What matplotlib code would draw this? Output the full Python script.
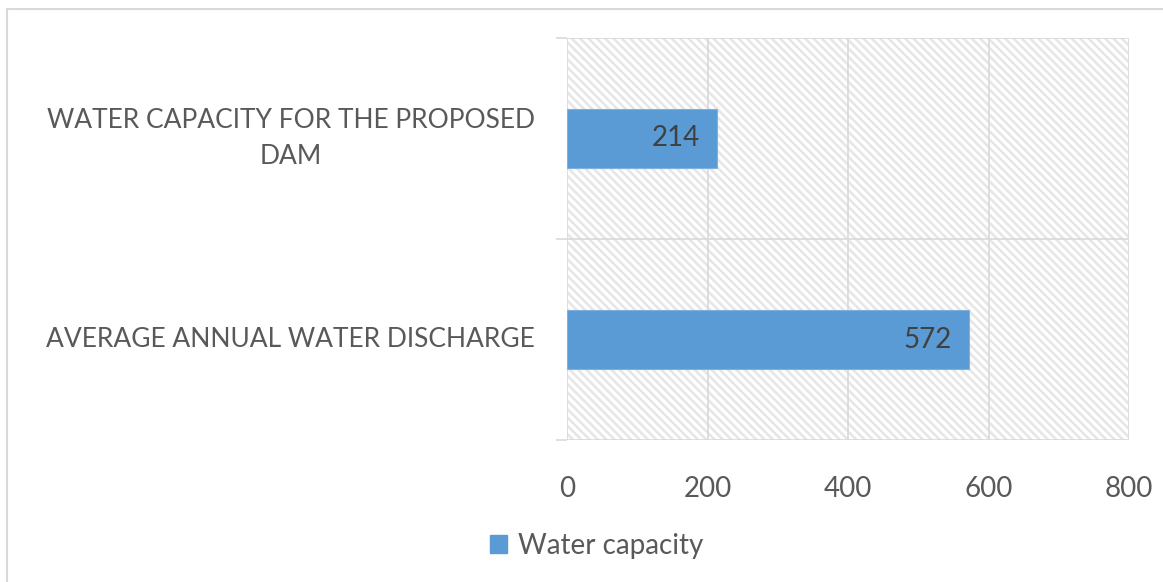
import matplotlib.pyplot as plt
from matplotlib.patches import Rectangle, Patch

plt.rcParams["font.family"] = ["Lato", "DejaVu Sans"]
plt.rcParams["hatch.linewidth"] = 1.8

categories = ["AVERAGE ANNUAL WATER DISCHARGE", "WATER CAPACITY FOR THE PROPOSED\nDAM"]
values = [572, 214]
series_name = "Water capacity"
xticks = [0, 200, 400, 600, 800]

BAR_COLOR = "#5B9BD5"
GRID_COLOR = "#D9D9D9"
TEXT_COLOR = "#595959"

W, H = 1163, 582
fig = plt.figure(figsize=(W / 100, H / 100), dpi=100)

# light frame around the chart area
fig.patches.append(Rectangle((7 / W, -0.1), 2, 1.1 - 9 / H, transform=fig.transFigure,
                             facecolor="none", edgecolor=GRID_COLOR, lw=1.5, zorder=0))

ax = fig.add_axes([567 / W, 1 - 440 / H, (1129 - 567) / W, (440 - 38) / H])
ax.set_axisbelow(True)

# hatched plot area
ax.add_patch(Rectangle((0, 0), 1, 1, transform=ax.transAxes, facecolor="white",
                       edgecolor="#E6E6E6", lw=0, hatch="\\\\\\\\", zorder=0))

y = list(range(len(categories)))
bars = ax.barh(y, values, height=0.29, color=BAR_COLOR, edgecolor="#7EB1E0", lw=0.8,
               label=series_name, zorder=2)
for b, v in zip(bars, values):
    ax.annotate(str(v), (v, b.get_y() + b.get_height() / 2), xytext=(-17, 0),
                textcoords="offset pixels", ha="right", va="center",
                fontsize=20, color="#404040", zorder=3)

ax.set_xlim(0, 800)
ax.set_ylim(-0.5, len(categories) - 0.5)
ax.set_xticks(xticks)
ax.set_yticks(y)
ax.set_yticklabels([])
ax.set_yticks([-0.5, 0.5, 1.5], minor=True)

# category names, right aligned, multi-line names centred on themselves
for yi, name in zip(y, categories):
    ax.annotate(name, (0, yi), xycoords=ax.get_yaxis_transform(), xytext=(-32, 0),
                textcoords="offset pixels", ha="right", va="center",
                multialignment="center", linespacing=1.5, fontsize=19, color=TEXT_COLOR)

ax.grid(axis="x", color=GRID_COLOR, lw=1.2)
ax.grid(axis="y", which="minor", color=GRID_COLOR, lw=1.2)
ax.tick_params(axis="x", length=0, pad=26, labelsize=20, labelcolor=TEXT_COLOR)
ax.tick_params(axis="y", which="major", length=0)
ax.tick_params(axis="y", which="minor", length=8, width=1.2, color=GRID_COLOR, direction="out")
for s in ax.spines.values():
    s.set_visible(False)

fig.legend(handles=[Patch(color=BAR_COLOR, label=series_name)], loc="center",
           bbox_to_anchor=(597 / W, 1 - 546 / H), frameon=False, fontsize=20,
           labelcolor=TEXT_COLOR, handlelength=0.6, handleheight=0.6, handletextpad=0.4)

fig.savefig("out.png", dpi=100)
